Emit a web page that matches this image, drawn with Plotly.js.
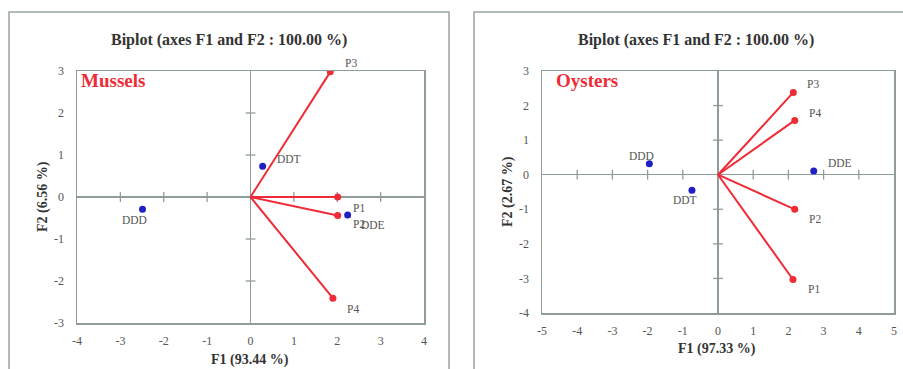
<!DOCTYPE html>
<html>
<head>
<meta charset="utf-8">
<script src="https://cdn.plot.ly/plotly-3.0.1.min.js"></script>
<style>html,body{margin:0;padding:0;background:#fff;}#chart{width:903px;height:369px;}</style>
</head>
<body>
<div id="chart"></div>
<script>
// ---- Data: Mussels ----
const musselVars = ["P1", "P2", "P3", "P4"];
const musselVarX = [2.01, 2.01, 1.84, 1.90];
const musselVarY = [0.00, -0.44, 2.98, -2.41];
const musselObs = ["DDT", "DDD", "DDE"];
const musselObsX = [0.28, -2.49, 2.24];
const musselObsY = [0.73, -0.29, -0.43];
const musselXTicks = [-4, -3, -2, -1, 0, 1, 2, 3, 4];
const musselYTicks = [-3, -2, -1, 0, 1, 2, 3];

// ---- Data: Oysters ----
const oysterVars = ["P1", "P2", "P3", "P4"];
const oysterVarX = [2.13, 2.18, 2.14, 2.18];
const oysterVarY = [-3.03, -1.00, 2.38, 1.57];
const oysterObs = ["DDD", "DDT", "DDE"];
const oysterObsX = [-1.95, -0.74, 2.72];
const oysterObsY = [0.32, -0.45, 0.11];
const oysterXTicks = [-5, -4, -3, -2, -1, 0, 1, 2, 3, 4, 5];
const oysterYTicks = [-4, -3, -2, -1, 0, 1, 2, 3];

// label offsets (pixels)
const musselVarShift = [[21, -11], [21, -9], [21, 9], [20, -11]];
const musselObsShift = [[26, 7], [-8, -11], [25, -10]];
const oysterVarShift = [[21, -10], [20, -10], [20, 8], [20, 7]];
const oysterObsShift = [[-8, 8], [-7, -10], [26, 8]];

const RED = "#ee2b36";
const BLUE = "#1f1fc4";
const GRID = "#8f9c9a";
const SERIF = "Liberation Serif, DejaVu Serif, serif";
const W = 903, H = 369;

function vecLines(xs, ys) {
  const x = [], y = [];
  xs.forEach((v, i) => { x.push(0, v, null); y.push(0, ys[i], null); });
  return {x, y};
}

function panel(vx, vy, ox, oy, xt, yt, xa, ya) {
  const traces = [];
  const inner = (a) => a.filter(v => v !== 0 && v !== a[0] && v !== a[a.length - 1]);
  const xi = inner(xt), yi = inner(yt);
  traces.push({x: xi, y: xi.map(() => 0), xaxis: xa, yaxis: ya, mode: "markers", hoverinfo: "skip",
    marker: {symbol: "line-ns-open", size: 7, color: GRID, line: {color: GRID, width: 1.3}}});
  traces.push({x: yi.map(() => 0), y: yi, xaxis: xa, yaxis: ya, mode: "markers", hoverinfo: "skip",
    marker: {symbol: "line-ew-open", size: 7, color: GRID, line: {color: GRID, width: 1.3}}});
  const L = vecLines(vx, vy);
  traces.push({x: L.x, y: L.y, xaxis: xa, yaxis: ya, mode: "lines", line: {color: RED, width: 2}, hoverinfo: "skip"});
  traces.push({x: vx, y: vy, xaxis: xa, yaxis: ya, mode: "markers", marker: {color: RED, size: 7}});
  traces.push({x: ox, y: oy, xaxis: xa, yaxis: ya, mode: "markers", marker: {color: BLUE, size: 7}});
  return traces;
}

const data = [].concat(
  panel(musselVarX, musselVarY, musselObsX, musselObsY, musselXTicks, musselYTicks, "x", "y"),
  panel(oysterVarX, oysterVarY, oysterObsX, oysterObsY, oysterXTicks, oysterYTicks, "x2", "y2")
);

function labels(names, xs, ys, shifts, xr, yr) {
  return names.map((n, i) => ({
    text: n, x: xs[i], y: ys[i], xref: xr, yref: yr, showarrow: false,
    xshift: shifts[i][0], yshift: shifts[i][1],
    font: {family: SERIF, size: 11.5, color: "#555"}
  }));
}

function axis(range, ticks, domain, anchor, standoff) {
  return {
    range: range, domain: domain, anchor: anchor, tickvals: ticks, ticktext: ticks.map(String),
    showgrid: false, zeroline: true, zerolinecolor: GRID, zerolinewidth: 1.5,
    showline: true, mirror: true, linecolor: GRID, linewidth: 1.5,
    ticks: "outside", ticklen: standoff, tickcolor: "rgba(0,0,0,0)",
    tickfont: {family: SERIF, size: 12, color: "#555"}, fixedrange: true
  };
}

const px = v => v / W, py = v => 1 - v / H;

const annotations = [].concat(
  labels(musselVars, musselVarX, musselVarY, musselVarShift, "x", "y"),
  labels(musselObs, musselObsX, musselObsY, musselObsShift, "x", "y"),
  labels(oysterVars, oysterVarX, oysterVarY, oysterVarShift, "x2", "y2"),
  labels(oysterObs, oysterObsX, oysterObsY, oysterObsShift, "x2", "y2"),
  [
    {text: "<b>Biplot (axes F1 and F2 : 100.00 %)</b>", x: px(229), y: py(40), xref: "paper", yref: "paper", showarrow: false, xanchor: "center", yanchor: "middle", font: {family: SERIF, size: 16, color: "#333"}},
    {text: "<b>Biplot (axes F1 and F2 : 100.00 %)</b>", x: px(696), y: py(40), xref: "paper", yref: "paper", showarrow: false, xanchor: "center", yanchor: "middle", font: {family: SERIF, size: 16, color: "#333"}},
    {text: "<b>Mussels</b>", x: px(79), y: py(81), xref: "paper", yref: "paper", showarrow: false, xanchor: "left", yanchor: "middle", font: {family: SERIF, size: 19, color: RED}},
    {text: "<b>Oysters</b>", x: px(554), y: py(81), xref: "paper", yref: "paper", showarrow: false, xanchor: "left", yanchor: "middle", font: {family: SERIF, size: 19, color: RED}},
    {text: "<b>F1 (93.44 %)</b>", x: px(250), y: py(360), xref: "paper", yref: "paper", showarrow: false, xanchor: "center", yanchor: "middle", font: {family: SERIF, size: 14, color: "#333"}},
    {text: "<b>F2 (6.56 %)</b>", x: px(43), y: py(197), xref: "paper", yref: "paper", showarrow: false, textangle: -90, xanchor: "center", yanchor: "middle", font: {family: SERIF, size: 14, color: "#333"}},
    {text: "<b>F1 (97.33 %)</b>", x: px(717), y: py(349), xref: "paper", yref: "paper", showarrow: false, xanchor: "center", yanchor: "middle", font: {family: SERIF, size: 14, color: "#333"}},
    {text: "<b>F2 (2.67 %)</b>", x: px(508), y: py(192), xref: "paper", yref: "paper", showarrow: false, textangle: -90, xanchor: "center", yanchor: "middle", font: {family: SERIF, size: 14, color: "#333"}}
  ]
);

const layout = {
  width: W, height: H, margin: {l: 0, r: 0, t: 0, b: 0},
  paper_bgcolor: "#fff", plot_bgcolor: "#fff", showlegend: false,
  xaxis: axis([-4, 4], musselXTicks, [px(77), px(424)], "y", 6),
  yaxis: axis([-3, 3], musselYTicks, [py(323), py(71)], "x", 9),
  xaxis2: axis([-5, 5], oysterXTicks, [px(542), px(894)], "y2", 6),
  yaxis2: axis([-4, 3], oysterYTicks, [py(313), py(71)], "x2", 9),
  annotations: annotations,
  shapes: [
    {type: "rect", xref: "paper", yref: "paper", x0: px(9), x1: px(449), y0: -0.1, y1: py(12), line: {color: "#9aa5a3", width: 1.5}, layer: "below"},
    {type: "rect", xref: "paper", yref: "paper", x0: px(474), x1: 1.1, y0: -0.1, y1: py(12), line: {color: "#9aa5a3", width: 1.5}, layer: "below"}
  ]
};

Plotly.newPlot("chart", data, layout, {staticPlot: true, displayModeBar: false});
</script>
</body>
</html>
